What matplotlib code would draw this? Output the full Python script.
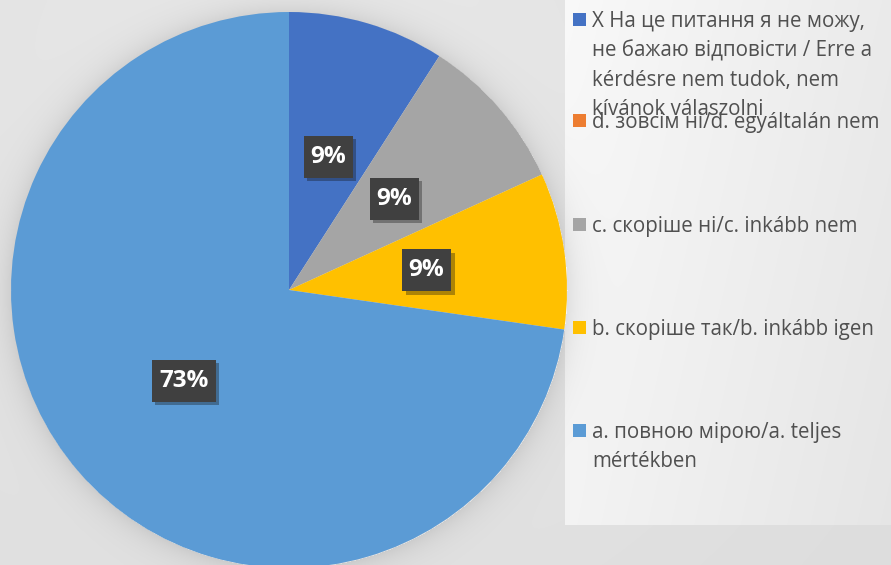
import numpy as np
import matplotlib
matplotlib.use('Agg')
import matplotlib.pyplot as plt
from matplotlib.patches import Rectangle
import matplotlib.patheffects as pe

categories = ["X На це питання я не можу,\nне бажаю відповісти / Erre a\nkérdésre nem tudok, nem\nkívánok válaszolni",
              "d. зовсім ні/d. egyáltalán nem",
              "c. скоріше ні/c. inkább nem",
              "b. скоріше так/b. inkább igen",
              "a. повною мірою/a. teljes\nmértékben"]
values = [1, 0, 1, 1, 8]
colors = ['#4472C4', '#ED7D31', '#A5A5A5', '#FFC000', '#5B9BD5']

plt.rcParams['font.family'] = ['Open Sans', 'DejaVu Sans']

W, H = 891, 565
fig = plt.figure(figsize=(W / 100, H / 100), dpi=100)

# background with soft gradient, legend panel and pie halo
bg = fig.add_axes([0, 0, 1, 1], zorder=0)
yy, xx = np.mgrid[0:H, 0:W].astype(float)
img = 0.86 + 0.05 * np.exp(-((xx - 300) ** 2 + (yy - 120) ** 2) / (2 * 380 ** 2))
panel = (xx >= 565) & (yy < 525)
img[panel] = 0.975 - 0.055 * (xx[panel] - 565) / 326 - 0.02 * (yy[panel] / 525)
cx, cy, R = 289, 290, 278
d = np.hypot(xx - cx, yy - cy)
img = img - np.where(d > R, 0.085 * np.exp(-(d - R) / 14.0), 0)
bg.imshow(np.dstack([img] * 3), extent=[0, W, 0, H], aspect='auto', interpolation='bilinear')
bg.set_xlim(0, W)
bg.set_ylim(0, H)
bg.set_axis_off()

# pie
ax = fig.add_axes([(cx - R) / W, (H - cy - R) / H, 2 * R / W, 2 * R / H], zorder=1)
ax.patch.set_alpha(0)
wedges, texts, autotexts = ax.pie(values, colors=colors, startangle=90, counterclock=False,
                                  radius=1, wedgeprops=dict(linewidth=0),
                                  autopct=lambda p: f'{p:.0f}%' if p > 0 else '',
                                  pctdistance=0.5)
ax.set_xlim(-1, 1)
ax.set_ylim(-1, 1)
ax.set_aspect('auto')
ax.set_axis_off()

for t in autotexts:
    s = t.get_text()
    if not s:
        continue
    x, y = t.get_position()
    bw = (49 if len(s) == 2 else 64) / R
    bh = 42 / R
    rect = Rectangle((x - bw / 2, y - bh / 2), bw, bh, facecolor='#404040', edgecolor='none', zorder=3,
                     path_effects=[pe.SimplePatchShadow(offset=(2.5, -2.5), alpha=0.35), pe.Normal()])
    ax.add_patch(rect)
    t.set_color('white')
    t.set_fontweight('bold')
    t.set_fontsize(17.5)
    t.set_ha('center')
    t.set_va('center')
    t.set_zorder(4)

# legend drawn at Excel positions
leg_baselines = [27, 128, 232, 335, 438]
line_gap = 29.3
for lab, col, yb in zip(categories, colors, leg_baselines):
    fig.patches.append(Rectangle((573 / W, 1 - (yb - 1) / H), 13 / W, 13 / H, transform=fig.transFigure,
                                 facecolor=col, edgecolor='none', zorder=5))
    for i, line in enumerate(lab.split('\n')):
        fig.text(592 / W, 1 - (yb + i * line_gap) / H, line, fontsize=14.8, color='#505050',
                 ha='left', va='baseline', zorder=6)

fig.savefig('out.png', dpi=100)
